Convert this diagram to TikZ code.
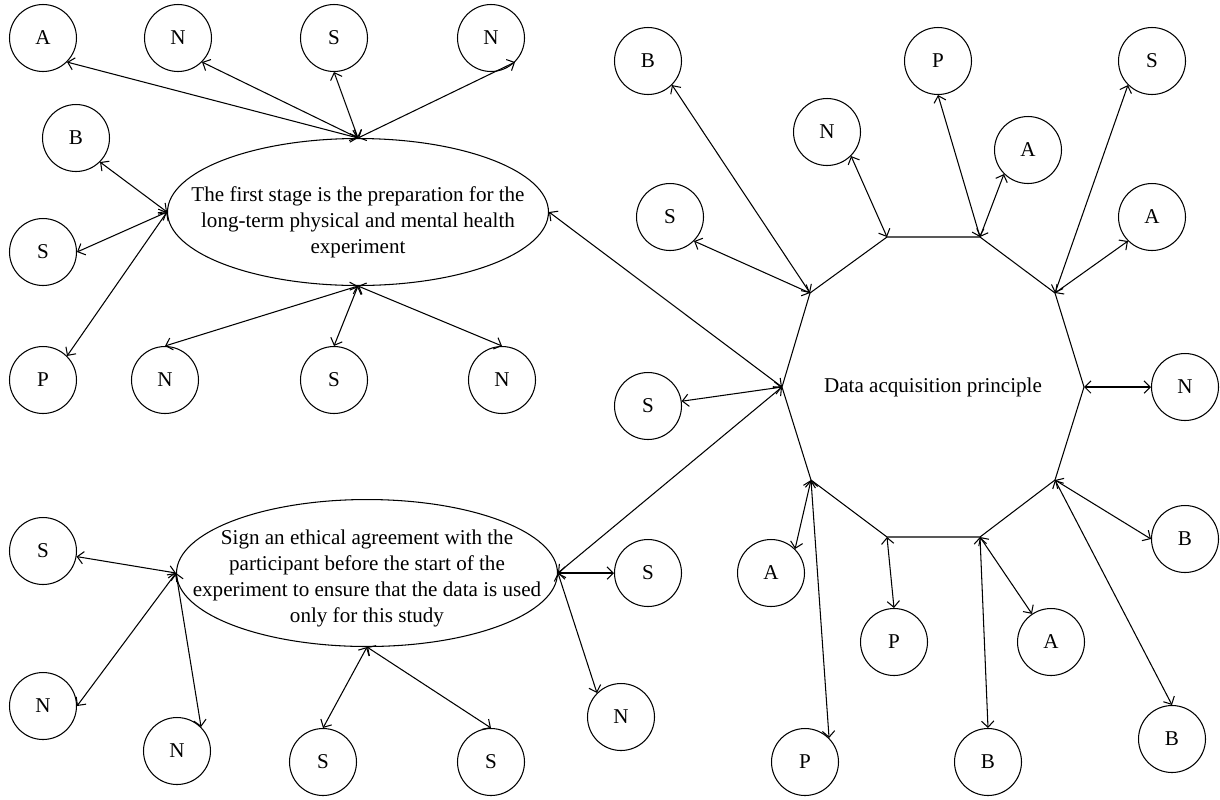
\documentclass[tikz,border=0pt]{standalone}
\usepackage{fontspec}
\setmainfont{Liberation Serif}
\usetikzlibrary{shapes.geometric,arrows.meta}

\begin{document}
\begin{tikzpicture}[
        x=0.02cm, y=-0.02cm,
        line width=0.6pt,
        >={Straight Barb[length=3.5pt,width=7pt]},
        leaf/.style={circle, draw, minimum size=1.34cm, inner sep=0pt, font=\fontsize{12}{14}\selectfont},
        stage/.style={ellipse, draw, minimum width=7.62cm, minimum height=2.94cm, inner xsep=-40pt, inner ysep=-12pt, align=center, font=\fontsize{12}{14.8}\selectfont},
        link/.style={<->} % every connector has a head at both ends
    ]

    \useasboundingbox (0,0) rectangle (1220,799);

    % --- First stage ---
    \node[stage] (e1) at (358,212) {\rule{0pt}{20.5pt}The first stage is the preparation for the\\long-term physical and mental health\\experiment};

    \node[leaf] (f1) at (43,38) {A};
    \node[leaf] (f2) at (178,38) {N};
    \node[leaf] (f3) at (334,38) {S};
    \node[leaf] (f4) at (491,38) {N};
    \node[leaf] (f5) at (76,138) {B};
    \node[leaf] (f6) at (43,252) {S};
    \node[leaf] (f7) at (43,380) {P};
    \node[leaf] (f8) at (165,380) {N};
    \node[leaf] (f9) at (334,380) {S};
    \node[leaf] (f10) at (502,380) {N};

    % --- Ethical agreement ---
    \node[stage] (e2) at (367,573) {\rule{0pt}{14.5pt}Sign an ethical agreement with the\\participant before the start of the\\experiment to ensure that the data is used\\only for this study};

    \node[leaf] (g1) at (43,551) {S};
    \node[leaf] (g2) at (43,706) {N};
    \node[leaf] (g3) at (177,751) {N};
    \node[leaf] (g4) at (323,762) {S};
    \node[leaf] (g5) at (491,762) {S};
    \node[leaf] (g6) at (648,573) {S};
    \node[leaf] (g7) at (621,717) {N};

    % --- Data acquisition principle ---
    \node[font=\fontsize{12}{14}\selectfont] (dap) at (933,387) {Data acquisition principle};

    \coordinate (c0) at (1084,387);
    \coordinate (c1) at (1055,480);
    \coordinate (c2) at (980,537);
    \coordinate (c3) at (887,537);
    \coordinate (c4) at (811,480);
    \coordinate (c5) at (782,387);
    \coordinate (c6) at (810,293);
    \coordinate (c7) at (887,237);
    \coordinate (c8) at (980,237);
    \coordinate (c9) at (1055,293);
    \draw (c0) -- (c1) -- (c2) -- (c3) -- (c4) -- (c5) -- (c6) -- (c7) -- (c8) -- (c9) -- cycle;

    \node[leaf] (d1) at (648,61) {B};
    \node[leaf] (d2) at (670,217) {S};
    \node[leaf] (d3) at (827,132) {N};
    \node[leaf] (d4) at (938,61) {P};
    \node[leaf] (d5) at (1028,150) {A};
    \node[leaf] (d6) at (1152,61) {S};
    \node[leaf] (d7) at (1152,217) {A};
    \node[leaf] (d8) at (1185,387) {N};
    \node[leaf] (d9) at (1185,539) {B};
    \node[leaf] (d10) at (1172,739) {B};
    \node[leaf] (d11) at (1051,642) {A};
    \node[leaf] (d12) at (988,762) {B};
    \node[leaf] (d13) at (894,642) {P};
    \node[leaf] (d14) at (771,573) {A};
    \node[leaf] (d15) at (805,762) {P};
    \node[leaf] (d16) at (648,406) {S};

    % --- Connectors ---
    \draw[link] (e1.north) -- (f1.south east);
    \draw[link] (e1.north) -- (f2.south east);
    \draw[link] (e1.north) -- (f3.south);
    \draw[link] (e1.north) -- (f4.south east);
    \draw[link] (e1.west) -- (f5.south east);
    \draw[link] (e1.west) -- (f6.east);
    \draw[link] (e1.west) -- (f7.north east);
    \draw[link] (e1.south) -- (f8.north);
    \draw[link] (e1.south) -- (f9.north);
    \draw[link] (e1.south) -- (f10.north);
    \draw[link] (e1.east) -- (c5);

    \draw[link] (e2.west) -- (g1);
    \draw[link] (e2.west) -- (g2.east);
    \draw[link] (e2.west) -- (g3.north east);
    \draw[link] (e2.south) -- (g4.north);
    \draw[link] (e2.south) -- (g5.north);
    \draw[link] (e2.east) -- (g6.west);
    \draw[link] (e2.east) -- (g7.north west);
    \draw[link] (e2.east) -- (c5);

    \draw[link] (c6) -- (d1.south east);
    \draw[link] (c6) -- (d2.south east);
    \draw[link] (c7) -- (d3.south east);
    \draw[link] (c8) -- (d4.south);
    \draw[link] (c8) -- (d5.south west);
    \draw[link] (c9) -- (d6.south west);
    \draw[link] (c9) -- (d7.south west);
    \draw[link] (c0) -- (d8.west);
    \draw[link] (c1) -- (d9.west);
    \draw[link] (c1) -- (d10.north);
    \draw[link] (c2) -- (d11);
    \draw[link] (c2) -- (d12.north);
    \draw[link] (c3) -- (d13.north);
    \draw[link] (c4) -- (d14.north east);
    \draw[link] (c4) -- (d15.north east);
    \draw[link] (c5) -- (d16);

\end{tikzpicture}
\end{document}
